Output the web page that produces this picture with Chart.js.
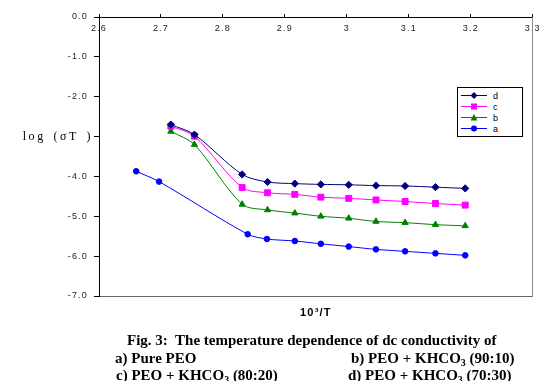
<!DOCTYPE html>
<html><head><meta charset="utf-8">
<script src="https://cdn.jsdelivr.net/npm/chart.js@4/dist/chart.umd.min.js"></script>
<style>
html,body{margin:0;padding:0;background:#fff;}
#wrap{position:relative;width:545px;height:381px;overflow:hidden;background:#fff;}
#c{position:absolute;left:0;top:0;}
.cap{position:absolute;font-family:"Liberation Serif","Times New Roman",serif;font-weight:bold;font-size:15px;color:#000;white-space:nowrap;line-height:16px;}
.cap sub{font-size:10px;line-height:0;vertical-align:-3px;}
#ytitle{position:absolute;right:452px;top:128px;font-family:"Liberation Serif","Times New Roman",serif;font-size:12px;letter-spacing:2.6px;word-spacing:2px;color:#000;white-space:nowrap;line-height:16px;}
#legend{position:absolute;left:457px;top:87px;width:64px;border:1px solid #000;background:#fff;padding:2px 0;font-family:"Liberation Sans",Arial,sans-serif;font-size:9px;color:#000;}
#legend .row{display:flex;align-items:center;height:11px;}
#legend svg{margin-left:3px;margin-right:6px;}
</style></head>
<body>
<div id="wrap">
<canvas id="c" width="545" height="381"></canvas>
<div id="ytitle"></div>
<div id="legend"></div>
<div class="cap" style="left:127px;top:332px;">Fig. 3:&nbsp; The temperature dependence of dc conductivity of</div>
<div class="cap" style="left:115px;top:350px;">a) Pure PEO</div>
<div class="cap" style="left:351px;top:350px;">b) PEO + KHCO<sub>3</sub> (90:10)</div>
<div class="cap" style="left:116px;top:367px;">c) PEO + KHCO<sub>3</sub> (80:20)</div>
<div class="cap" style="left:348px;top:367px;">d) PEO + KHCO<sub>3</sub> (70:30)</div>
</div>
<script>
// ---- data ----
const seriesNames = ['d', 'c', 'b', 'a'];
const xBCD = [2.716, 2.754, 2.831, 2.872, 2.916, 2.958, 3.003, 3.047, 3.094, 3.143, 3.191];
const xA   = [2.660, 2.697, 2.840, 2.871, 2.916, 2.958, 3.003, 3.047, 3.094, 3.143, 3.191];
const yD = [-2.70, -2.95, -3.95, -4.14, -4.18, -4.20, -4.21, -4.23, -4.24, -4.27, -4.30];
const yC = [-2.74, -2.99, -4.28, -4.41, -4.45, -4.52, -4.55, -4.59, -4.63, -4.68, -4.72];
const yB = [-2.87, -3.20, -4.70, -4.84, -4.92, -5.00, -5.05, -5.13, -5.16, -5.21, -5.24];
const yA = [-3.87, -4.13, -5.45, -5.57, -5.62, -5.69, -5.76, -5.83, -5.88, -5.93, -5.98];
const xTickValues = [2.6, 2.7, 2.8, 2.9, 3.0, 3.1, 3.2, 3.3];
const xTickLabels = ['2.6', '2.7', '2.8', '2.9', '3', '3.1', '3.2', '3.3'];
const yTickValues = [0, -1, -2, -3, -4, -5, -6, -7];
const yTickLabels = ['0.0', '-1.0', '-2.0', '', '-4.0', '-5.0', '-6.0', '-7.0'];
const yTitle = 'log (\u03C3T )';
const xTitle = '10\u00B3/T';

document.getElementById('ytitle').textContent = yTitle;

const pts = (xs, ys) => xs.map((x, i) => ({x: x, y: ys[i]}));
const styles = {
  d: {color: '#000080', shape: 'rectRot', r: 3.6},
  c: {color: '#ff00ff', shape: 'rect', r: 4.2},
  b: {color: '#008000', shape: 'triangle', r: 3.6},
  a: {color: '#0000ff', shape: 'circle', r: 2.8}
};
const seriesData = {d: pts(xBCD, yD), c: pts(xBCD, yC), b: pts(xBCD, yB), a: pts(xA, yA)};

const datasets = seriesNames.map(n => ({
  label: n,
  data: seriesData[n],
  borderColor: styles[n].color,
  backgroundColor: styles[n].color,
  pointBackgroundColor: styles[n].color,
  pointBorderColor: styles[n].color,
  pointStyle: styles[n].shape,
  pointRadius: styles[n].r,
  pointBorderWidth: 1,
  borderWidth: 1,
  tension: 0.3,
  fill: false
}));

const tickFont = {family: '"Liberation Sans", Arial, sans-serif', size: 9};

const spacingPlugin = {
  id: 'spacing',
  beforeDraw: c => { c.ctx.letterSpacing = '1.2px'; },
  beforeDatasetsDraw: c => { c.ctx.letterSpacing = '0px'; }
};

const chart = new Chart(document.getElementById('c'), {
  type: 'line',
  data: {datasets: datasets},
  plugins: [spacingPlugin],
  options: {
    responsive: false,
    animation: false,
    devicePixelRatio: 1,
    layout: {padding: 0},
    plugins: {legend: {display: false}, tooltip: {enabled: false}},
    scales: {
      x: {
        type: 'linear', position: 'top', min: 2.6, max: 3.3,
        afterBuildTicks: s => { s.ticks = xTickValues.map(v => ({value: v})); },
        afterFit: s => { s.height = 17; },
        ticks: {mirror: true, padding: 6, font: tickFont, color: '#222',
                callback: (v, i) => xTickLabels[i]},
        grid: {drawOnChartArea: false, drawTicks: true, tickLength: 3, color: '#000'},
        border: {color: '#000', width: 1}
      },
      x2: {
        type: 'linear', position: 'bottom', min: 2.6, max: 3.3,
        afterFit: s => { s.height = 85; },
        ticks: {display: false},
        grid: {display: false, drawTicks: false},
        border: {display: true, color: '#666', width: 1},
        title: {display: true, text: xTitle, color: '#000',
                font: {family: '"Liberation Sans", Arial, sans-serif', size: 11, weight: 'bold'},
                padding: {top: 0, bottom: 61}}
      },
      y: {
        type: 'linear', position: 'left', min: -7, max: 0,
        afterBuildTicks: s => { s.ticks = yTickValues.map(v => ({value: v})); },
        afterFit: s => { s.width = 99; },
        ticks: {padding: 6, color: '#222', font: tickFont,
                callback: (v, i) => yTickLabels[i]},
        grid: {drawOnChartArea: false, drawTicks: true, tickLength: 5, color: '#000'},
        border: {color: '#000', width: 1}
      },
      y2: {
        type: 'linear', position: 'right', min: -7, max: 0,
        afterFit: s => { s.width = 8; },
        ticks: {display: false},
        grid: {display: false, drawTicks: false},
        border: {display: true, color: '#888', width: 1}
      }
    }
  }
});

// HTML legend built from the datasets
const leg = document.getElementById('legend');
chart.data.datasets.forEach(ds => {
  const row = document.createElement('div');
  row.className = 'row';
  const c = ds.borderColor;
  let mk = '';
  if (ds.pointStyle === 'rectRot') mk = `<polygon points="13,1 16.5,4.5 13,8 9.5,4.5" fill="${c}"/>`;
  else if (ds.pointStyle === 'rect') mk = `<rect x="10" y="1.5" width="6" height="6" fill="${c}"/>`;
  else if (ds.pointStyle === 'triangle') mk = `<polygon points="13,1 16.5,7.5 9.5,7.5" fill="${c}"/>`;
  else mk = `<circle cx="13" cy="4.5" r="3" fill="${c}"/>`;
  row.innerHTML = `<svg width="26" height="9"><line x1="0" y1="4.5" x2="26" y2="4.5" stroke="${c}" stroke-width="1"/>${mk}</svg><span>${ds.label}</span>`;
  leg.appendChild(row);
});
</script>
</body></html>
